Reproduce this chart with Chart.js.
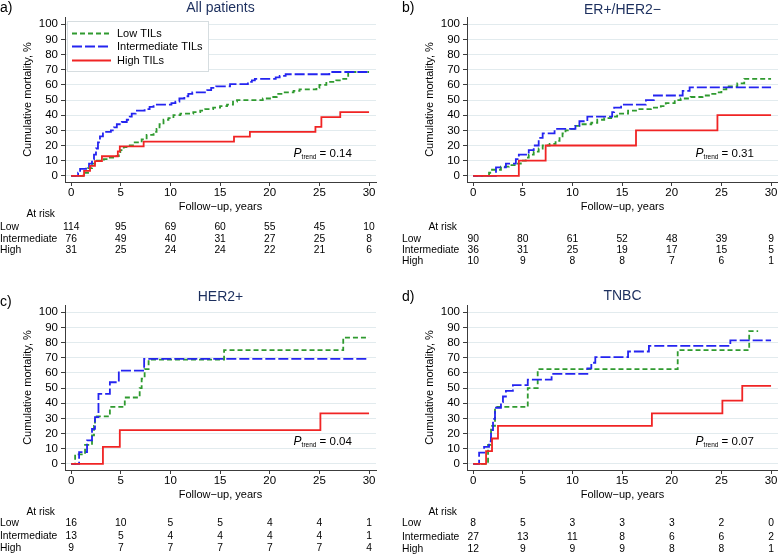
<!DOCTYPE html>
<html>
<head>
<meta charset="utf-8">
<script src="https://cdn.jsdelivr.net/npm/chart.js@4.4.1/dist/chart.umd.min.js"></script>
<style>
  html, body { margin: 0; padding: 0; background: #fff; }
  #wrap { position: relative; width: 778px; height: 554px; overflow: hidden; }
  #wrap canvas { position: absolute; }
</style>
</head>
<body>
<div id="wrap"></div>
<script>
// follow-up years with cumulative mortality (%) right after each event
const allLow = [[0,0],[1.2,2],[1.7,5],[2.1,8],[2.4,10],[3.3,11],[3.8,12],[4.4,13],[4.8,15],[4.95,17],[5.3,19],[5.8,20],[6.4,22],[7.1,24],[7.6,27],[8.3,29],[8.6,31],[8.9,34],[9.3,37],[9.8,38],[10.3,40],[11,41],[12.3,42],[13,43],[13.5,44],[14.3,45],[15,46],[15.7,47],[16.3,49],[16.7,50],[19.3,51],[20.2,52],[20.7,54],[21.4,55],[22.4,56],[23,57],[24.7,58],[25,60],[25.7,62],[26.7,63],[27.4,64],[27.9,68.5],[30,68.5]]
const allInt = [[0,0],[0.7,2],[0.9,4.5],[1.5,5.5],[1.8,8],[2.1,11],[2.3,14],[2.5,18],[2.7,22],[2.9,26],[3.2,29],[4,30],[4.3,32],[4.6,34],[5.1,35.5],[5.6,37],[5.9,39],[6.1,41],[6.5,43],[7.4,44],[7.9,45.5],[8.3,47],[10.1,48],[10.5,49],[10.9,51],[11.4,52.5],[11.8,54],[12.2,55],[13.7,56.5],[14.1,58],[14.6,59],[16,60.5],[17.8,62],[18.2,63],[18.5,64],[20.6,65],[21,66],[21.6,67],[26,68.5],[30,68.5]]
const allHigh = [[0,0],[1.3,3.2],[1.9,6.5],[2.4,9.7],[3.1,12.9],[4.7,16.1],[4.9,19.4],[7.3,22.6],[16.4,25.8],[18,29],[24.6,32.3],[25.2,38.7],[27.1,42],[30,42]]

const erLow = [[0,0],[1.6,2],[1.9,4],[2.8,6],[3.6,7],[4.3,8],[4.8,10],[5.3,12],[5.6,14],[6.1,16],[6.6,18],[7,20],[7.7,21],[8.3,23],[8.7,26],[9,28],[9.3,30],[9.8,31],[10.3,33],[10.8,34],[11.9,35],[12.5,37],[13.2,38],[13.9,39],[14.5,41],[15.6,43],[16.4,44],[17.9,45],[18.9,46],[19.4,48],[20.3,50],[20.9,51],[21.9,52],[23.1,53],[23.9,54],[24.6,55],[25,57],[25.5,59],[26.6,61],[27.3,64],[30,64]]
const erInt = [[0,0],[2.3,5.5],[3.3,8],[4.3,11],[4.6,14],[5.6,17],[6.1,20],[6.6,25],[7,28],[8.2,31],[10.3,33],[10.7,36],[11.5,39],[14,42],[14.2,45],[14.9,47],[17.4,50],[18.2,53],[21.1,56],[21.8,58.3],[30,58.3]]
const erHigh = [[0,0],[4.6,10],[7.3,20],[16.4,30],[24.6,40],[30,40]]

const herLow = [[0,0],[0.4,6.25],[1.4,12.5],[2.1,18.75],[2.3,25],[2.4,31.25],[3.9,37.5],[5.4,43.75],[6.9,50],[7.1,56.25],[7.4,62.5],[7.8,68.75],[15.4,75],[27.4,83.3],[30,83.3]]
const herInt = [[0,0],[0.8,7.7],[1.6,15.4],[2.1,23.1],[2.4,30.8],[2.75,46.2],[3.9,53.8],[4.8,61.5],[7.35,69.2],[30,69.2]]
const herHigh = [[0,0],[3.2,11.1],[4.9,22.2],[25.1,33.3],[30,33.3]]

const tnLow = [[0,0],[1.5,12.5],[1.8,25],[2.2,37.5],[5.5,50],[6.5,62.5],[20.6,75],[27.8,87.5],[28.7,87.5]]
const tnInt = [[0,0],[0.6,7.4],[1.1,11.1],[1.6,14.8],[1.8,22.2],[2,29.6],[2.2,37],[2.8,40.7],[3,44.4],[3.3,48.1],[4,51.9],[5.5,55.6],[7.9,59.3],[11.5,63],[11.9,66.7],[12.3,70.4],[15.6,74.1],[17.7,77.8],[25.9,81.5],[30,81.5]]
const tnHigh = [[0,0],[1.3,8.3],[1.9,16.7],[2.5,25],[18,33.3],[25.1,41.7],[27.1,51.4],[30,51.4]]

// numbers at risk at 0, 5, ... 30 years
const allRisk = [[114,95,69,60,55,45,10],[76,49,40,31,27,25,8],[31,25,24,24,22,21,6]]
const erRisk = [[90,80,61,52,48,39,9],[36,31,25,19,17,15,5],[10,9,8,8,7,6,1]]
const herRisk = [[16,10,5,5,4,4,1],[13,5,4,4,4,4,1],[9,7,7,7,7,7,4]]
const tnRisk = [[8,5,3,3,3,2,0],[27,13,11,8,6,6,2],[12,9,9,9,8,8,1]]

const groupNames = ["Low TILs", "Intermediate TILs", "High TILs"]
const riskNames = ["Low", "Intermediate", "High"]
const titles = ["All patients", "ER+/HER2\u2212", "HER2+", "TNBC"]
const tags = ["a)", "b)", "c)", "d)"]
const pTrend = ["0.14", "0.31", "0.04", "0.07"]
const xTicks = [0, 5, 10, 15, 20, 25, 30]
const yTicks = [0, 10, 20, 30, 40, 50, 60, 70, 80, 90, 100]

const FONT = "'Liberation Sans', Arial, Helvetica, sans-serif"
const GREEN = "#2f9a2f"
const BLUE = "#2424f0"
const RED = "#f02424"
const AXIS = "#3c3c3c"
const GRID = "#e2ebee"
const NAVY = "#1c2f5e"

Chart.defaults.font.family = FONT
Chart.defaults.color = "#000"

const panels = [
  { left: 0, top: 0, w: 389, h: 288, series: [allLow, allInt, allHigh], risk: allRisk, legend: true,
    tagY: 8, titleY: 8, riskY: [214, 227.5, 239, 250] },
  { left: 402, top: 0, w: 376, h: 288, series: [erLow, erInt, erHigh], risk: erRisk, legend: false,
    tagY: 8, titleY: 10, riskY: [227, 239.5, 250, 261] },
  { left: 0, top: 288, w: 389, h: 266, series: [herLow, herInt, herHigh], risk: herRisk, legend: false,
    tagY: 14, titleY: 9, riskY: [224, 235, 248, 260] },
  { left: 402, top: 288, w: 376, h: 266, series: [tnLow, tnInt, tnHigh], risk: tnRisk, legend: false,
    tagY: 9, titleY: 8, riskY: [224, 235, 249, 261] }
]

const styles = [
  { color: GREEN, dash: [5, 3], order: 2 },
  { color: BLUE, dash: [10, 3], order: 1 },
  { color: RED, dash: [], order: 0 }
]

const extras = (p, i) => ({
  id: "extras" + i,
  afterDraw(chart) {
    const ctx = chart.ctx
    const area = chart.chartArea
    const xs = chart.scales.x
    const ys = chart.scales.y
    ctx.save()

    ctx.fillStyle = "#000"
    ctx.font = "14px " + FONT
    ctx.textBaseline = "middle"
    ctx.textAlign = "left"
    ctx.fillText(tags[i], 0, p.tagY)

    ctx.fillStyle = NAVY
    ctx.textAlign = "center"
    ctx.fillText(titles[i], (area.left + area.right) / 2, p.titleY)

    // P trend
    let px = xs.getPixelForValue(22.4)
    const py = ys.getPixelForValue(12.3)
    ctx.fillStyle = "#000"
    ctx.textAlign = "left"
    ctx.textBaseline = "alphabetic"
    ctx.font = "italic 12px " + FONT
    ctx.fillText("P", px, py)
    px += ctx.measureText("P").width
    ctx.font = "6.5px " + FONT
    ctx.fillText("trend", px, py + 2)
    px += ctx.measureText("trend").width
    ctx.font = "11.5px " + FONT
    ctx.fillText(" = " + pTrend[i], px, py)

    // at-risk table
    ctx.font = "10.3px " + FONT
    ctx.textBaseline = "middle"
    ctx.textAlign = "right"
    ctx.fillText("At risk", area.left - 10, p.riskY[0])
    p.risk.forEach((row, r) => {
      const y = p.riskY[r + 1]
      ctx.textAlign = "left"
      ctx.fillText(riskNames[r], area.left - 65, y)
      ctx.textAlign = "center"
      row.forEach((n, k) => ctx.fillText(String(n), xs.getPixelForValue(xTicks[k]), y))
    })

    if (p.legend) {
      const lx = area.left + 2, ly = area.top + 4
      ctx.fillStyle = "#fff"
      ctx.fillRect(lx, ly, 141, 50)
      ctx.strokeStyle = "#d6dde0"
      ctx.lineWidth = 1
      ctx.strokeRect(lx + 0.5, ly + 0.5, 141, 50)
      const rows = [12, 25, 39]
      chart.data.datasets.forEach((ds, k) => {
        const y = Math.round(ly + rows[k]) + 0.5
        ctx.strokeStyle = ds.borderColor
        ctx.lineWidth = 1.8
        ctx.setLineDash(ds.borderDash)
        ctx.beginPath()
        ctx.moveTo(lx + 5, y)
        ctx.lineTo(lx + 44, y)
        ctx.stroke()
        ctx.setLineDash([])
        ctx.fillStyle = "#000"
        ctx.font = "11px " + FONT
        ctx.textAlign = "left"
        ctx.fillText(ds.label, lx + 50, y)
      })
    }
    ctx.restore()
  }
})

panels.forEach((p, i) => {
  const canvas = document.createElement("canvas")
  canvas.width = p.w
  canvas.height = p.h
  canvas.style.left = p.left + "px"
  canvas.style.top = p.top + "px"
  canvas.style.width = p.w + "px"
  canvas.style.height = p.h + "px"
  document.getElementById("wrap").appendChild(canvas)

  new Chart(canvas, {
    type: "line",
    data: {
      datasets: p.series.map((data, k) => ({
        label: groupNames[k],
        data: data,
        borderColor: styles[k].color,
        borderDash: styles[k].dash,
        order: styles[k].order,
        borderWidth: 1.8,
        stepped: "before",
        fill: false,
        pointRadius: 0
      }))
    },
    options: {
      responsive: false,
      animation: false,
      devicePixelRatio: 1,
      layout: {
        padding: { top: 17, left: 0, right: p.w - 65 - 311, bottom: p.h - 17 - 165 - 32 }
      },
      plugins: {
        legend: { display: false },
        tooltip: { enabled: false }
      },
      scales: {
        x: {
          type: "linear",
          min: -0.62,
          max: 30.7,
          afterBuildTicks: s => { s.ticks = xTicks.map(v => ({ value: v })) },
          afterFit: s => { s.height = 32 },
          ticks: { font: { size: 11.5 }, color: "#000", padding: 0, maxRotation: 0, autoSkip: false },
          grid: { drawOnChartArea: false, tickColor: AXIS, tickLength: 4 },
          border: { color: AXIS, width: 1 },
          title: { display: true, text: "Follow\u2212up, years", font: { size: 11 }, color: "#000", padding: { top: 0, bottom: 0 } }
        },
        y: {
          type: "linear",
          min: -4.1,
          max: 104.8,
          afterBuildTicks: s => { s.ticks = yTicks.map(v => ({ value: v })) },
          afterFit: s => { s.width = 65 },
          ticks: { font: { size: 11.5 }, color: "#000", padding: 3, autoSkip: false },
          grid: { color: GRID, tickColor: AXIS, tickLength: 4 },
          border: { color: AXIS, width: 1 },
          title: { display: true, text: "Cumulative mortality, %", font: { size: 11 }, color: "#000", padding: { top: 21, bottom: 0 } }
        }
      }
    },
    plugins: [extras(p, i)]
  })
})
</script>
</body>
</html>
